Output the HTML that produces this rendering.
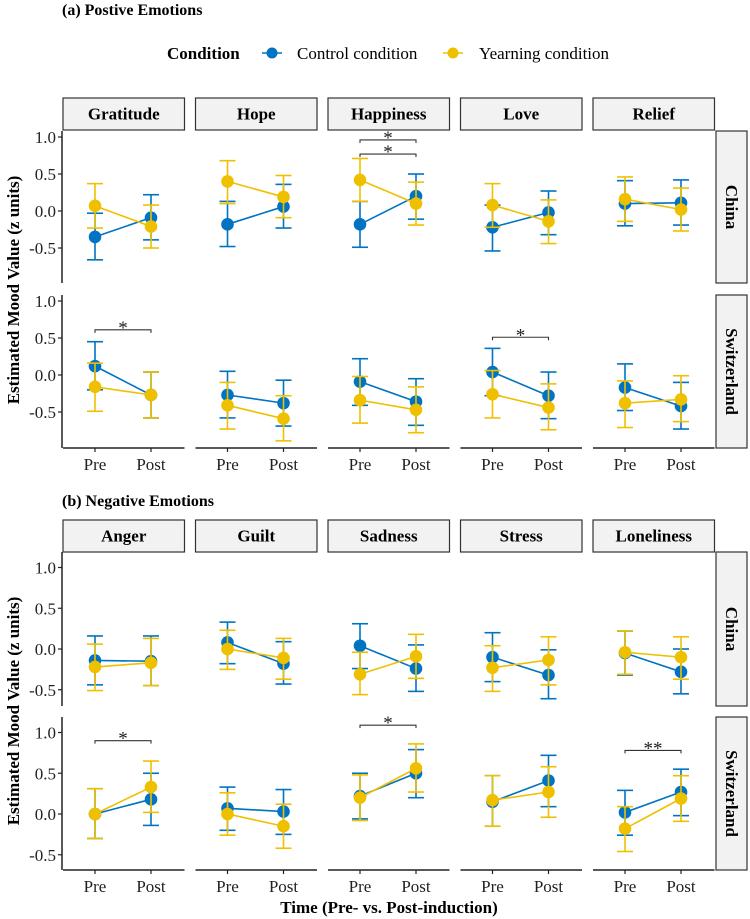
<!DOCTYPE html>
<html><head><meta charset="utf-8">
<style>
html,body{margin:0;padding:0;background:#fff;}
svg{display:block;font-family:"Liberation Serif",serif;}
</style></head>
<body>
<svg id="chart" width="750" height="919" viewBox="0 0 750 919" xmlns="http://www.w3.org/2000/svg">
<text x="62" y="15" font-size="16" font-weight="bold">(a) Postive Emotions</text>
<text x="62" y="506" font-size="16" font-weight="bold">(b) Negative Emotions</text>
<g>
<text x="167" y="59" font-size="17" font-weight="bold">Condition</text>
<line x1="262" y1="53" x2="282" y2="53" stroke="#0073C2" stroke-width="1.5"/>
<circle cx="272" cy="53" r="5.5" fill="#0073C2"/>
<text x="297" y="59" font-size="17">Control condition</text>
<line x1="443" y1="53" x2="463" y2="53" stroke="#EFC000" stroke-width="1.5"/>
<circle cx="453" cy="53" r="5.5" fill="#EFC000"/>
<text x="479" y="59" font-size="17">Yearning condition</text>
</g>
<text transform="translate(19,290) rotate(-90)" text-anchor="middle" font-size="17" font-weight="bold">Estimated Mood Value (z units)</text>
<text transform="translate(19,711) rotate(-90)" text-anchor="middle" font-size="17" font-weight="bold">Estimated Mood Value (z units)</text>
<text x="389" y="913" text-anchor="middle" font-size="17" font-weight="bold">Time (Pre- vs. Post-induction)</text>
</svg>
<script>
const aPanels = ["Gratitude","Hope","Happiness","Love","Relief"];
const bPanels = ["Anger","Guilt","Sadness","Stress","Loneliness"];
const rows = ["China","Switzerland"];
const timeLabels = ["Pre","Post"];
const yTicks = [1.0,0.5,0.0,-0.5];
const yTickLabels = ["1.0","0.5","0.0","-0.5"];

const a_china_ctrl_mean = [[-0.35,-0.09],[-0.18,0.06],[-0.18,0.20],[-0.22,-0.02],[0.10,0.11]];
const a_china_ctrl_lo   = [[-0.66,-0.39],[-0.48,-0.23],[-0.49,-0.11],[-0.54,-0.32],[-0.20,-0.19]];
const a_china_ctrl_hi   = [[-0.03,0.22],[0.13,0.36],[0.13,0.50],[0.08,0.27],[0.41,0.42]];
const a_china_yearn_mean= [[0.07,-0.21],[0.40,0.19],[0.42,0.10],[0.08,-0.14],[0.16,0.02]];
const a_china_yearn_lo  = [[-0.23,-0.50],[0.10,-0.09],[0.13,-0.19],[-0.22,-0.44],[-0.14,-0.27]];
const a_china_yearn_hi  = [[0.37,0.08],[0.68,0.48],[0.71,0.39],[0.37,0.15],[0.46,0.31]];
const a_swiss_ctrl_mean = [[0.12,-0.27],[-0.27,-0.38],[-0.09,-0.36],[0.04,-0.28],[-0.17,-0.42]];
const a_swiss_ctrl_lo   = [[-0.20,-0.58],[-0.58,-0.69],[-0.41,-0.68],[-0.28,-0.59],[-0.48,-0.73]];
const a_swiss_ctrl_hi   = [[0.45,0.04],[0.05,-0.07],[0.22,-0.05],[0.36,0.04],[0.15,-0.10]];
const a_swiss_yearn_mean= [[-0.16,-0.27],[-0.41,-0.59],[-0.34,-0.47],[-0.26,-0.44],[-0.38,-0.33]];
const a_swiss_yearn_lo  = [[-0.49,-0.58],[-0.73,-0.89],[-0.65,-0.78],[-0.58,-0.74],[-0.71,-0.63]];
const a_swiss_yearn_hi  = [[0.16,0.04],[-0.10,-0.28],[-0.02,-0.16],[0.06,-0.12],[-0.08,-0.01]];

const b_china_ctrl_mean = [[-0.14,-0.15],[0.08,-0.18],[0.04,-0.24],[-0.10,-0.32],[-0.05,-0.28]];
const b_china_ctrl_lo   = [[-0.44,-0.45],[-0.18,-0.43],[-0.24,-0.52],[-0.40,-0.61],[-0.32,-0.55]];
const b_china_ctrl_hi   = [[0.16,0.16],[0.33,0.09],[0.31,0.05],[0.20,-0.01],[0.22,0.00]];
const b_china_yearn_mean= [[-0.22,-0.17],[0.00,-0.11],[-0.31,-0.09],[-0.23,-0.135],[-0.04,-0.10]];
const b_china_yearn_lo  = [[-0.51,-0.45],[-0.25,-0.37],[-0.56,-0.36],[-0.52,-0.44],[-0.31,-0.37]];
const b_china_yearn_hi  = [[0.06,0.13],[0.23,0.13],[-0.04,0.18],[0.04,0.15],[0.22,0.15]];
const b_swiss_ctrl_mean = [[0.00,0.18],[0.07,0.03],[0.22,0.50],[0.15,0.41],[0.02,0.27]];
const b_swiss_ctrl_lo   = [[-0.30,-0.14],[-0.20,-0.25],[-0.06,0.20],[-0.15,0.09],[-0.26,-0.02]];
const b_swiss_ctrl_hi   = [[0.31,0.50],[0.33,0.30],[0.50,0.79],[0.47,0.72],[0.29,0.55]];
const b_swiss_yearn_mean= [[0.00,0.33],[0.00,-0.15],[0.20,0.56],[0.17,0.27],[-0.18,0.19]];
const b_swiss_yearn_lo  = [[-0.30,0.02],[-0.26,-0.42],[-0.08,0.27],[-0.15,-0.04],[-0.46,-0.09]];
const b_swiss_yearn_hi  = [[0.31,0.65],[0.26,0.12],[0.48,0.86],[0.47,0.58],[0.09,0.47]];

const a_sig = [[0,1,0.61,"*"],[2,0,0.96,"*"],[2,0,0.77,"*"],[3,1,0.51,"*"]];
const b_sig = [[0,1,0.90,"*"],[2,1,1.09,"*"],[4,1,0.78,"**"]];

const BLUE="#0073C2", YELLOW="#EFC000";
const svg=document.getElementById('chart');
const NS="http://www.w3.org/2000/svg";
function mk(tag,attrs,parent){const e=document.createElementNS(NS,tag);for(const k in attrs)e.setAttribute(k,attrs[k]);(parent||svg).appendChild(e);return e;}

function panelX0(i){return 63+132.5*i;}
const PW=121.5;
function xScale(i,t){return panelX0(i)+(t===0?32:88);}

function drawFigure(cfg){
  const yS=(r,v)=>cfg.zero[r]-cfg.unit*v;
  cfg.panels.forEach((name,i)=>{
    const g=mk('g',{});
    
    
    mk('rect',{x:panelX0(i),y:cfg.stripTop,width:PW,height:32,fill:'#F2F2F2',stroke:'#333',"stroke-width":1.2},g);
    const t=mk('text',{x:panelX0(i)+PW/2,y:cfg.stripTop+21.5,"text-anchor":"middle","font-size":17,"font-weight":"bold"},g);
    t.textContent=name;
  });
  rows.forEach((rn,r)=>{
    const g=mk('g',{});
    
    
    const top=cfg.top[r],bot=cfg.bot[r];
    mk('rect',{x:716,y:top,width:31,height:bot-top,fill:'#F2F2F2',stroke:'#333',"stroke-width":1.2},g);
    const cy=(top+bot)/2;
    const t=mk('text',{transform:`translate(726,${cy}) rotate(90)`,"text-anchor":"middle","font-size":17,"font-weight":"bold"},g);
    t.textContent=rn;
    const ax=mk('line',{x1:62,y1:top,x2:62,y2:bot,stroke:'#222',"stroke-width":1.5});
    
    
    yTicks.forEach((v,k)=>{
      mk('line',{x1:58,y1:yS(r,v),x2:62,y2:yS(r,v),stroke:'#222',"stroke-width":1.2});
      const tl=mk('text',{x:56,y:yS(r,v)+6,"text-anchor":"end","font-size":17,fill:'#222'});
      
      
      tl.textContent=yTickLabels[k];
    });
  });
  cfg.panels.forEach((name,i)=>{
    const yb=cfg.bot[1];
    const xa=mk('line',{x1:panelX0(i),y1:yb,x2:panelX0(i)+PW,y2:yb,stroke:'#222',"stroke-width":1.5});
    
    
    timeLabels.forEach((lab,t)=>{
      const x=xScale(i,t);
      mk('line',{x1:x,y1:yb,x2:x,y2:yb+4,stroke:'#222',"stroke-width":1.2});
      const tl=mk('text',{x:x,y:yb+22,"text-anchor":"middle","font-size":17,fill:'#222'});
      
      
      tl.textContent=lab;
    });
  });
  cfg.series.forEach(s=>{
    const r=s.row;
    cfg.panels.forEach((name,i)=>{
      const g=mk('g',{});
      
      
      [0,1].forEach(t=>{
        const x=xScale(i,t),lo=yS(r,s.lo[i][t]),hi=yS(r,s.hi[i][t]);
        mk('line',{x1:x,y1:lo,x2:x,y2:hi,stroke:s.color,"stroke-width":1.6},g);
        mk('line',{x1:x-8,y1:lo,x2:x+8,y2:lo,stroke:s.color,"stroke-width":1.6},g);
        mk('line',{x1:x-8,y1:hi,x2:x+8,y2:hi,stroke:s.color,"stroke-width":1.6},g);
      });
      mk('line',{x1:xScale(i,0),y1:yS(r,s.mean[i][0]),x2:xScale(i,1),y2:yS(r,s.mean[i][1]),stroke:s.color,"stroke-width":1.6},g);
      [0,1].forEach(t=>{
        const c=mk('circle',{cx:xScale(i,t),cy:yS(r,s.mean[i][t]),r:6.3,fill:s.color},g);
        
        
      });
    });
  });
  cfg.sig.forEach(sg=>{
    const [i,r,v,lab]=sg;const y=yS(r,v);
    const g=mk('g',{});
    
    
    mk('path',{d:`M${xScale(i,0)},${y+3}V${y}H${xScale(i,1)}V${y+3}`,fill:'none',stroke:'#333',"stroke-width":1.1},g);
    const t=mk('text',{x:(xScale(i,0)+xScale(i,1))/2,y:y+4,"text-anchor":"middle","font-size":19,fill:'#222'},g);
    t.textContent=lab;
  });
}

drawFigure({id:'a',panels:aPanels,stripTop:98,top:[131,295],bot:[283,448],zero:[211,375],unit:74,sig:a_sig,
  series:[
    {row:0,cond:'control',color:BLUE,mean:a_china_ctrl_mean,lo:a_china_ctrl_lo,hi:a_china_ctrl_hi},
    {row:1,cond:'control',color:BLUE,mean:a_swiss_ctrl_mean,lo:a_swiss_ctrl_lo,hi:a_swiss_ctrl_hi},
    {row:0,cond:'yearning',color:YELLOW,mean:a_china_yearn_mean,lo:a_china_yearn_lo,hi:a_china_yearn_hi},
    {row:1,cond:'yearning',color:YELLOW,mean:a_swiss_yearn_mean,lo:a_swiss_yearn_lo,hi:a_swiss_yearn_hi}]});
drawFigure({id:'b',panels:bPanels,stripTop:520,top:[552,717],bot:[706,870],zero:[649,814],unit:81.5,sig:b_sig,
  series:[
    {row:0,cond:'control',color:BLUE,mean:b_china_ctrl_mean,lo:b_china_ctrl_lo,hi:b_china_ctrl_hi},
    {row:1,cond:'control',color:BLUE,mean:b_swiss_ctrl_mean,lo:b_swiss_ctrl_lo,hi:b_swiss_ctrl_hi},
    {row:0,cond:'yearning',color:YELLOW,mean:b_china_yearn_mean,lo:b_china_yearn_lo,hi:b_china_yearn_hi},
    {row:1,cond:'yearning',color:YELLOW,mean:b_swiss_yearn_mean,lo:b_swiss_yearn_lo,hi:b_swiss_yearn_hi}]});
</script>
</body></html>
